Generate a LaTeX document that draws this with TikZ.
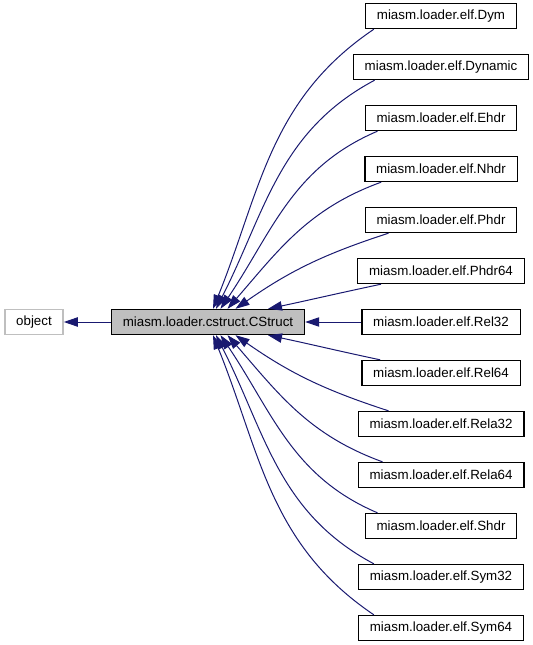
\documentclass[tikz,border=0pt]{standalone}
\usepackage{fontspec}
\setmainfont{Liberation Sans}
\usetikzlibrary{arrows.meta, positioning, calc}
\definecolor{edgeblue}{HTML}{191970}
\definecolor{boxgray}{HTML}{BFBFBF}
\def\H{18.75pt}
\def\distV{18.5pt}
\def\distH{35.25pt}
\def\distHR{42pt}
\tikzstyle{every node} = [font=\fontsize{10}{12}\selectfont]
\tikzstyle{arrow}   = [draw=edgeblue, line width=0.75pt, -{Triangle[length=10.5pt,width=7pt]}]
\tikzstyle{base}    = [rectangle, minimum height=\H, inner xsep=8.5pt, inner ysep=2pt, text centered, draw=boxgray, line width=1pt]
\tikzstyle{current} = [base, draw=black, fill=boxgray]
\tikzstyle{derived} = [base, draw=black, fill=white]

\begin{document}
\begin{tikzpicture}[x=0.75pt, y=0.75pt]
\useasboundingbox (0,0) rectangle (532,-645);
% Objects
    % Base classes
    \node (object)  [base] at (34,-322)                  {object};
    \node (cstruct) [current, right=\distH of object]    {miasm.loader.cstruct.CStruct};
    % Derived classes
    \node (rel32)   [derived, right=\distHR of cstruct]  {miasm.loader.elf.Rel32};
    \node (phdr64)  [derived, above=\distV of rel32]     {miasm.loader.elf.Phdr64};
    \node (phdr)    [derived, above=\distV of phdr64]    {miasm.loader.elf.Phdr};
    \node (nhdr)    [derived, above=\distV of phdr]      {miasm.loader.elf.Nhdr};
    \node (ehdr)    [derived, above=\distV of nhdr]      {miasm.loader.elf.Ehdr};
    \node (dynamic) [derived, above=\distV of ehdr]      {miasm.loader.elf.Dynamic};
    \node (dym)     [derived, above=\distV of dynamic]   {miasm.loader.elf.Dym};
    \node (rel64)   [derived, below=\distV of rel32]     {miasm.loader.elf.Rel64};
    \node (rela32)  [derived, below=\distV of rel64]     {miasm.loader.elf.Rela32};
    \node (rela64)  [derived, below=\distV of rela32]    {miasm.loader.elf.Rela64};
    \node (shdr)    [derived, below=\distV of rela64]    {miasm.loader.elf.Shdr};
    \node (sym32)   [derived, below=\distV of shdr]      {miasm.loader.elf.Sym32};
    \node (sym64)   [derived, below=\distV of sym32]     {miasm.loader.elf.Sym64};

% Arrows
    % CStruct to object
    \draw [arrow] (cstruct) -- (object);
    % Upper derived classes
    \draw [arrow] ($(dym.south west)+(9,0)$)      to[out=214, in=68] ($(cstruct.north)+(5,0)$);
    \draw [arrow] ($(dynamic.south west)+(22,0)$) to[out=208, in=63] ($(cstruct.north)+(8,0)$);
    \draw [arrow] ($(ehdr.south west)+(13,0)$)    to[out=203, in=56] ($(cstruct.north)+(12.5,0)$);
    \draw [arrow] ($(nhdr.south west)+(17,0)$)    to[out=200, in=49] ($(cstruct.north)+(19.5,0)$);
    \draw [arrow] ($(phdr.south west)+(24,0)$)    to[out=198, in=35] ($(cstruct.north)+(27.5,0)$);
    \draw [arrow] ($(phdr64.south west)+(24,0)$)  to[out=192, in=12] ($(cstruct.north)+(60,0)$);
    % Middle
    \draw [arrow] (rel32) -- (cstruct);
    % Lower derived classes
    \draw [arrow] ($(rel64.north west)+(19,0)$)   to[out=168, in=-12] ($(cstruct.south)+(60,0)$);
    \draw [arrow] ($(rela32.north west)+(31,0)$)  to[out=162, in=-35] ($(cstruct.south)+(27.5,0)$);
    \draw [arrow] ($(rela64.north west)+(25,0)$)  to[out=160, in=-49] ($(cstruct.south)+(19.5,0)$);
    \draw [arrow] ($(shdr.north west)+(13,0)$)    to[out=157, in=-56] ($(cstruct.south)+(12.5,0)$);
    \draw [arrow] ($(sym32.north west)+(16,0)$)   to[out=152, in=-63] ($(cstruct.south)+(8,0)$);
    \draw [arrow] ($(sym64.north west)+(16,0)$)   to[out=146, in=-68] ($(cstruct.south)+(5,0)$);
\end{tikzpicture}
\end{document}
